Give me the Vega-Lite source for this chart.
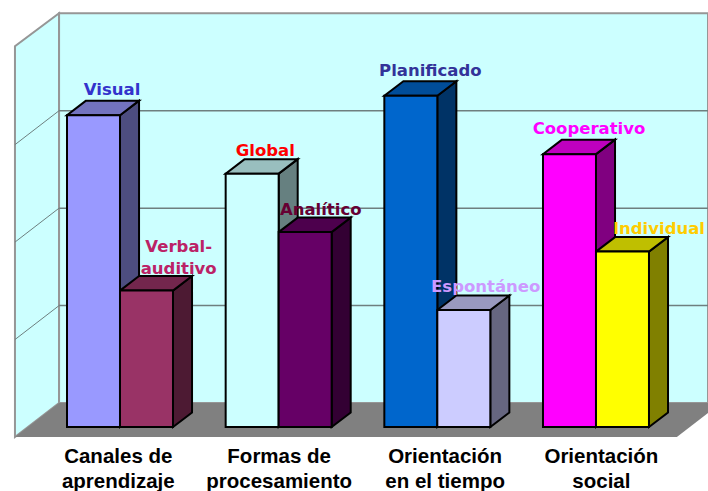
{
"$schema":"https://vega.github.io/schema/vega-lite/v6.json",
"width":708,"height":437,
"autosize":{"type":"none"},
"padding":{"left":0,"top":0,"right":0,"bottom":54},
"background":"white",
"config":{"view":{"stroke":null},"legend":{"disable":true}},
"layer":[
{"data":{"values":[{"xv":-0.328,"y0":-0.1026,"y1":3.908},{"xv":-0.05,"y0":0.246,"y1":4.246}]},
 "mark":{"type":"area","fill":"#CCFFFF","stroke":"#969696","strokeWidth":2,"clip":false},
 "encoding":{
  "x":{"field":"xv","type":"quantitative","title":null,"scale":{"domain":[-0.4223,4.04],"nice":false,"zero":false},
   "axis":{"values":[0.32,1.334,2.38,3.365],"domain":false,"ticks":false,"grid":false,"labelPadding":9,"labelFontSize":20.5,"labelFont":"Liberation Sans","labelFontWeight":"bold","labelColor":"black","labelLineHeight":25,"labelOverlap":false,"labelFlush":false,"labelBaseline":"top","title":null,
    "labelExpr":"[['Canales de','aprendizaje'],['Formas de','procesamiento'],['Orientación','en el tiempo'],['Orientación','social']][round(datum.value-0.334)]"}},
  "y":{"field":"y0","type":"quantitative","title":null,"axis":null,"scale":{"domain":[-0.1026,4.382],"nice":false,"zero":false}},
  "y2":{"field":"y1"}}},
{"data":{"values":[{"x1":-0.05,"x2":4.04,"y1":0.246,"y2":4.246}]},
 "mark":{"type":"rect","fill":"#CCFFFF","stroke":"#969696","strokeWidth":2},
 "encoding":{"x":{"field":"x1","type":"quantitative","title":null},"x2":{"field":"x2"},"y":{"field":"y1","type":"quantitative","axis":null},"y2":{"field":"y2"}}},
{"data":{"values":[{"y":-0.1026,"xa":-0.328,"xb":3.844},{"y":0.246,"xa":-0.05,"xb":4.122}]},
 "mark":{"type":"area","orient":"horizontal","fill":"#808080"},
 "encoding":{"y":{"field":"y","type":"quantitative","axis":null},"x":{"field":"xa","type":"quantitative","title":null},"x2":{"field":"xb"}}},
{"data":{"values":[{"n":1},{"n":2},{"n":3}]},
 "transform":[{"calculate":"datum.n+0.246","as":"yb"},{"calculate":"datum.n-0.1026","as":"yf"}],
 "layer":[
  {"mark":{"type":"rule","color":"#6E7F7F","strokeWidth":1.5},
   "encoding":{"x":{"datum":-0.05,"type":"quantitative","title":null},"x2":{"datum":4.04},"y":{"field":"yb","type":"quantitative","axis":null}}},
  {"mark":{"type":"rule","color":"#6E7F7F","strokeWidth":1},
   "encoding":{"x":{"datum":-0.328,"type":"quantitative","title":null},"x2":{"datum":-0.05},"y":{"field":"yf","type":"quantitative","axis":null},"y2":{"field":"yb"}}}
 ]},
{"data":{"values":[
  {"grupo":0,"serie":0,"nombre":"Visual","valor":3.2},
  {"grupo":0,"serie":1,"nombre":"Verbal-auditivo","valor":1.4},
  {"grupo":1,"serie":0,"nombre":"Global","valor":2.6},
  {"grupo":1,"serie":1,"nombre":"Analítico","valor":2.0},
  {"grupo":2,"serie":0,"nombre":"Planificado","valor":3.4},
  {"grupo":2,"serie":1,"nombre":"Espontáneo","valor":1.2},
  {"grupo":3,"serie":0,"nombre":"Cooperativo","valor":2.8},
  {"grupo":3,"serie":1,"nombre":"Individual","valor":1.8}]},
 "transform":[
  {"calculate":"datum.grupo+datum.serie*0.334","as":"pos"},
  {"calculate":"datum.pos+0.334","as":"fin"},
  {"calculate":"datum.grupo*2+datum.serie","as":"k"},
  {"calculate":"[0,1]","as":"t"},
  {"flatten":["t"]},
  {"calculate":"datum.fin+datum.t*0.12","as":"xs"},
  {"calculate":"datum.pos+datum.t*0.12","as":"xt"},
  {"calculate":"datum.valor+datum.t*0.149","as":"ya"},
  {"calculate":"datum.t*0.149","as":"yb"},
  {"calculate":"datum.pos+0.29+[-0.006,0.08,-0.04,-0.025,0,0.015,0,0.107][datum.k]","as":"lx"},
  {"calculate":"datum.valor+0.26+[0.015,0.204,-0.005,-0.015,0.01,0,0.02,-0.01][datum.k]","as":"ly"},
  {"calculate":"replace(datum.nombre,'Verbal-','Verbal-\\n')","as":"etiqueta"}
 ],
 "resolve":{"scale":{"fill":"independent"}},
 "layer":[
  {"mark":{"type":"area","stroke":"black","strokeWidth":2,"strokeJoin":"miter"},
   "encoding":{
    "x":{"field":"xs","type":"quantitative","title":null},
    "y":{"field":"ya","type":"quantitative","axis":null,"stack":null},"y2":{"field":"yb"},
    "detail":{"field":"nombre"},
    "fill":{"field":"nombre","type":"nominal","legend":null,"scale":{"domain":["Visual","Verbal-auditivo","Global","Analítico","Planificado","Espontáneo","Cooperativo","Individual"],"range":["#4D4D80","#4D1A33","#668080","#330033","#003366","#666680","#800080","#808000"]}}}},
  {"mark":{"type":"area","orient":"horizontal","stroke":"black","strokeWidth":2,"strokeJoin":"miter"},
   "encoding":{
    "y":{"field":"ya","type":"quantitative","axis":null},
    "x":{"field":"xt","type":"quantitative","title":null,"stack":null},"x2":{"field":"xs"},
    "detail":{"field":"nombre"},
    "fill":{"field":"nombre","type":"nominal","legend":null,"scale":{"domain":["Visual","Verbal-auditivo","Global","Analítico","Planificado","Espontáneo","Cooperativo","Individual"],"range":["#7373BF","#73264D","#99BFBF","#4D004D","#004D99","#9999BF","#BF00BF","#BFBF00"]}}}},
  {"transform":[{"filter":"datum.t==0"}],
   "mark":{"type":"rect","stroke":"black","strokeWidth":2},
   "encoding":{
    "x":{"field":"pos","type":"quantitative","title":null},"x2":{"field":"fin"},
    "y":{"field":"valor","type":"quantitative","axis":null},"y2":{"datum":0},
    "fill":{"field":"nombre","type":"nominal","legend":null,"scale":{"domain":["Visual","Verbal-auditivo","Global","Analítico","Planificado","Espontáneo","Cooperativo","Individual"],"range":["#9999FF","#993366","#CCFFFF","#660066","#0066CC","#CCCCFF","#FF00FF","#FFFF00"]}}}},
  {"transform":[{"filter":"datum.t==0"}],
   "mark":{"type":"text","font":"DejaVu Sans","fontWeight":"bold","fontSize":16.5,"lineBreak":"\n","lineHeight":22,"baseline":"bottom","dy":10,"align":"center"},
   "encoding":{
    "x":{"field":"lx","type":"quantitative","title":null},
    "y":{"field":"ly","type":"quantitative","axis":null},
    "text":{"field":"etiqueta"},
    "fill":{"field":"nombre","type":"nominal","legend":null,"scale":{"domain":["Visual","Verbal-auditivo","Global","Analítico","Planificado","Espontáneo","Cooperativo","Individual"],"range":["#3333CC","#BB2266","#FF0000","#660033","#333399","#CC99FF","#FF00FF","#FFCC00"]}}}}
 ]}
]
}
